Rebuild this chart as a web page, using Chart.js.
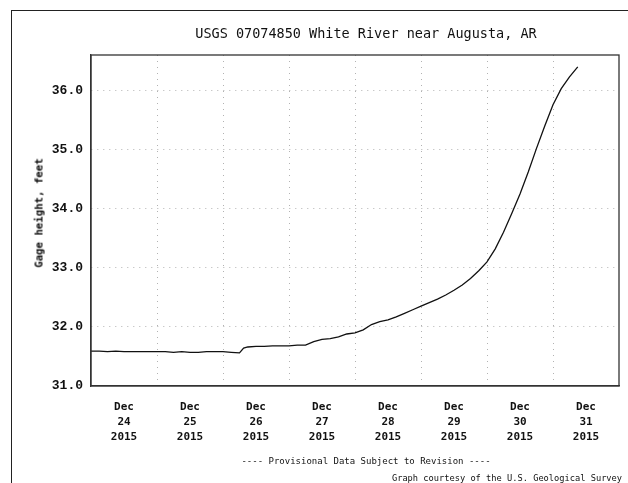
<!DOCTYPE html>
<html><head><meta charset="utf-8">
<script src="https://cdn.jsdelivr.net/npm/chart.js@4/dist/chart.umd.min.js"></script>
<style>
html,body{margin:0;padding:0;background:#fff;}
#wrap{position:relative;width:628px;height:483px;overflow:hidden;background:#fff;}
#frame{position:absolute;left:11px;top:10px;width:700px;height:520px;border-left:1.5px solid #222;border-top:1.5px solid #222;}
canvas{position:absolute;left:0;top:0;}
.t{position:absolute;font-family:"DejaVu Sans Mono",monospace;color:#111;white-space:pre;transform:translate(-50%,-50%);}
</style></head><body>
<div id="wrap">
<div id="frame"></div>
<canvas id="c" width="628" height="483"></canvas>
<div class="t" id="title" style="left:366px;top:33px;font-size:13.5px;">USGS 07074850 White River near Augusta, AR</div>
<div class="t" id="ytitle" style="left:39px;top:213px;font-size:10.7px;font-weight:bold;transform:translate(-50%,-50%) rotate(-90deg);">Gage height, feet</div>
<div class="t" id="foot1" style="left:366px;top:461px;font-size:9px;">---- Provisional Data Subject to Revision ----</div>
<div class="t" id="foot2" style="left:507px;top:478px;font-size:8.7px;">Graph courtesy of the U.S. Geological Survey</div>
</div>
<script>
// hours since Dec 24 2015 00:00
const hours = [0,3,6,9,12,15,18,21,24,27,30,33,36,39,42,45,48,51,54,55.5,57,60,63,66,69,72,75,78,81,84,87,90,93,96,99,102,105,108,111,114,117,120,123,126,129,132,135,138,141,144,147,150,153,156,159,162,165,168,171,174,177];
const gageHeight = [31.59,31.59,31.58,31.59,31.58,31.58,31.58,31.58,31.58,31.58,31.57,31.58,31.57,31.57,31.58,31.58,31.58,31.57,31.56,31.64,31.66,31.67,31.67,31.68,31.68,31.68,31.69,31.69,31.75,31.79,31.80,31.83,31.88,31.90,31.95,32.04,32.09,32.12,32.17,32.23,32.29,32.35,32.41,32.47,32.54,32.62,32.71,32.82,32.95,33.10,33.32,33.60,33.92,34.25,34.62,35.02,35.40,35.76,36.03,36.23,36.40];
const monthLabel = 'Dec';
const dayLabels = ['24','25','26','27','28','29','30','31'];
const yearLabel = '2015';
const yTicks = [31,32,33,34,35,36];

const points = hours.map((h,i)=>({x:h,y:gageHeight[i]}));

const framePlugin = {
  id:'frame',
  afterDraw(chart){
    const a = chart.chartArea, ctx = chart.ctx;
    ctx.save();
    ctx.strokeStyle = '#333';
    ctx.lineWidth = 1.3;
    ctx.strokeRect(a.left, a.top, a.right-a.left, a.bottom-a.top);
    ctx.restore();
  }
};

new Chart(document.getElementById('c'), {
  type:'line',
  data:{datasets:[{data:points, borderColor:'#111', borderWidth:1.3, pointRadius:0, tension:0, fill:false}]},
  options:{
    responsive:false, animation:false, devicePixelRatio:1,
    layout:{padding:{left:0,right:9,top:55,bottom:37}},
    plugins:{legend:{display:false}, tooltip:{enabled:false}},
    scales:{
      x:{type:'linear', min:0, max:192,
        afterFit(s){ s.height = 60; s.paddingLeft = 0; s.paddingRight = 0; },
        ticks:{stepSize:12, autoSkip:false, maxRotation:0, padding:14, color:'#111',
          font:{family:'DejaVu Sans Mono', size:11, weight:'bold', lineHeight:1.36},
          callback(v){ if (v % 24 === 12) { return [monthLabel, dayLabels[(v-12)/24], yearLabel]; } return ''; }},
        grid:{drawTicks:false, color(ctx){ const v = ctx.tick && ctx.tick.value; return (v>0 && v<192 && v%24===0) ? 'rgba(0,0,0,0.3)' : 'rgba(0,0,0,0)'; }, lineWidth:1},
        border:{color:'#333', width:1.3, dash:[1,5]}
      },
      y:{type:'linear', min:31, max:36.6,
        afterFit(s){ s.width = 91; s.paddingTop = 0; s.paddingBottom = 0; },
        ticks:{stepSize:1, includeBounds:false, padding:8, color:'#111',
          font:{family:'Liberation Mono', size:13, weight:'bold'},
          callback(v){ return yTicks.includes(Math.round(v*1000)/1000) ? v.toFixed(1) : ''; }},
        grid:{drawTicks:false, color(ctx){ const v = ctx.tick && ctx.tick.value; return (v>31.5 && v<36.5) ? 'rgba(0,0,0,0.3)' : 'rgba(0,0,0,0)'; }, lineWidth:1},
        border:{color:'#333', width:1.3, dash:[1,5]}
      }
    }
  },
  plugins:[framePlugin]
});
</script>
</body></html>
